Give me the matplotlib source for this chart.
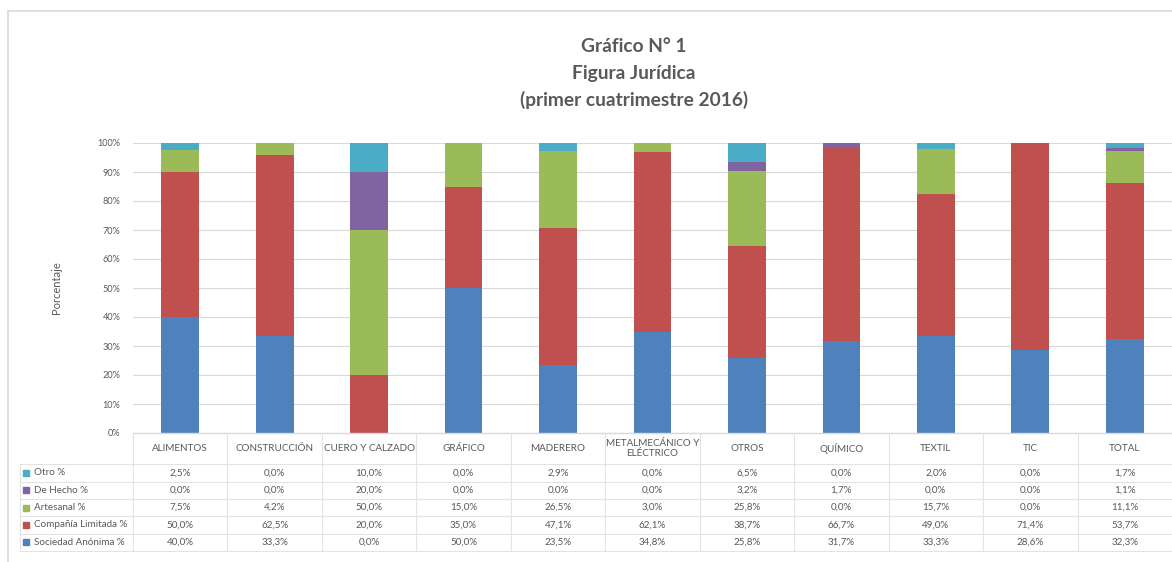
import matplotlib
matplotlib.use("Agg")
import matplotlib.pyplot as plt
import numpy as np
from matplotlib.lines import Line2D
from matplotlib.patches import Rectangle

categories = ["ALIMENTOS", "CONSTRUCCIÓN", "CUERO Y CALZADO", "GRÁFICO", "MADERERO",
              "METALMECÁNICO Y\nELÉCTRICO", "OTROS", "QUÍMICO", "TEXTIL", "TIC", "TOTAL"]
sociedad_anonima = [40.0, 33.3, 0.0, 50.0, 23.5, 34.8, 25.8, 31.7, 33.3, 28.6, 32.3]
compania_limitada = [50.0, 62.5, 20.0, 35.0, 47.1, 62.1, 38.7, 66.7, 49.0, 71.4, 53.7]
artesanal = [7.5, 4.2, 50.0, 15.0, 26.5, 3.0, 25.8, 0.0, 15.7, 0.0, 11.1]
de_hecho = [0.0, 0.0, 20.0, 0.0, 0.0, 0.0, 3.2, 1.7, 0.0, 0.0, 1.1]
otro = [2.5, 0.0, 10.0, 0.0, 2.9, 0.0, 6.5, 0.0, 2.0, 0.0, 1.7]
yticks = [0, 10, 20, 30, 40, 50, 60, 70, 80, 90, 100]

# stacking order bottom -> top
series = [
    ("Sociedad Anónima %", sociedad_anonima, "#4F81BD"),
    ("Compañía Limitada %", compania_limitada, "#C0504D"),
    ("Artesanal %", artesanal, "#9BBB59"),
    ("De Hecho %", de_hecho, "#8064A2"),
    ("Otro %", otro, "#4BACC6"),
]

FONT = ["Lato", "DejaVu Sans"]
plt.rcParams["font.family"] = FONT
TXT = "#595959"
GRID = "#D9D9D9"

W, H = 1172, 562
fig = plt.figure(figsize=(W / 100, H / 100), dpi=100)

def fx(px):
    return px / W

def fy(py):
    return 1 - py / H

# outer chart frame
fig.add_artist(Line2D([fx(8), fx(W)], [fy(11), fy(11)], color=GRID, lw=1.2))
fig.add_artist(Line2D([fx(8), fx(8)], [fy(11), fy(H)], color=GRID, lw=1.2))

# title
for txt, y in [("Gráfico N° 1", 46), ("Figura Jurídica", 73), ("(primer cuatrimestre 2016)", 100)]:
    fig.text(fx(634), fy(y), txt, ha="center", va="center", fontsize=13.8,
             fontweight="bold", color=TXT)

# main axes
x_left, x_right = 133, 1172
y_top, y_bot = 143, 433
ax = fig.add_axes([fx(x_left), fy(y_bot), fx(x_right - x_left), (y_bot - y_top) / H])
n = len(categories)
x = np.arange(n)
totals = np.sum([s[1] for s in series], axis=0)
bottom = np.zeros(n)
for name, vals, col in series:
    v = np.array(vals) / totals * 100
    ax.bar(x, v, width=0.40, bottom=bottom, color=col, edgecolor="none", zorder=3)
    bottom += v
ax.set_xlim(-0.5, n - 0.5)
ax.set_ylim(0, 100)
ax.set_yticks(yticks)
ax.set_yticklabels([f"{t}%" for t in yticks], fontsize=6.6, color=TXT)
ax.tick_params(axis="y", length=0, pad=9)
ax.set_xticks([])
ax.grid(axis="y", color=GRID, lw=0.8, zorder=0)
for s in ax.spines.values():
    s.set_visible(False)
ax.set_ylabel("Porcentaje", fontsize=8, color=TXT, labelpad=0)
ax.yaxis.set_label_coords((62 - x_left) / (x_right - x_left), 0.5)

# data table below
colw = (x_right - x_left) / n
leg_left = 20
row_lines = [433, 464, 481.5, 499, 516, 533.5, 551]
tab = fig.add_axes([fx(leg_left), fy(row_lines[-1]), fx(x_right - leg_left),
                    (row_lines[-1] - row_lines[0]) / H])
tab.set_xlim(-0.5 - (x_left - leg_left) / colw, n - 0.5)
tab.set_ylim(row_lines[-1], row_lines[0])
tab.axis("off")
lc = "#E3E3E3"
tab.plot([-0.5, n - 0.5], [row_lines[0]] * 2, color=GRID, lw=1.0, clip_on=False)
xl0 = -0.5 - (x_left - leg_left) / colw
for yl in row_lines[1:]:
    tab.plot([xl0, n - 0.5], [yl, yl], color=lc, lw=0.8, clip_on=False)
tab.plot([xl0, xl0], [row_lines[1], row_lines[-1]], color=lc, lw=0.8, clip_on=False)
for i in range(n):
    tab.plot([i - 0.5, i - 0.5], [row_lines[0], row_lines[-1]], color=lc, lw=0.8, clip_on=False)
hy = (row_lines[0] + row_lines[1]) / 2
for i, c in enumerate(categories):
    tab.text(i, hy, c, ha="center", va="center", fontsize=7.1, color=TXT, linespacing=1.1)
for r, (name, vals, col) in enumerate(reversed(series)):
    yc = (row_lines[r + 1] + row_lines[r + 2]) / 2
    mx = xl0 + 5.5 / colw
    tab.add_patch(Rectangle((mx - 3 / colw, yc - 3), 6 / colw, 6, color=col, clip_on=False))
    tab.text(xl0 + 13.5 / colw, yc, name, ha="left", va="center", fontsize=7.1, color=TXT)
    for i, v in enumerate(vals):
        tab.text(i, yc, f"{v:.1f}%".replace(".", ","), ha="center", va="center",
                 fontsize=7.1, color=TXT)

fig.savefig("out.png", dpi=100, facecolor="white")
